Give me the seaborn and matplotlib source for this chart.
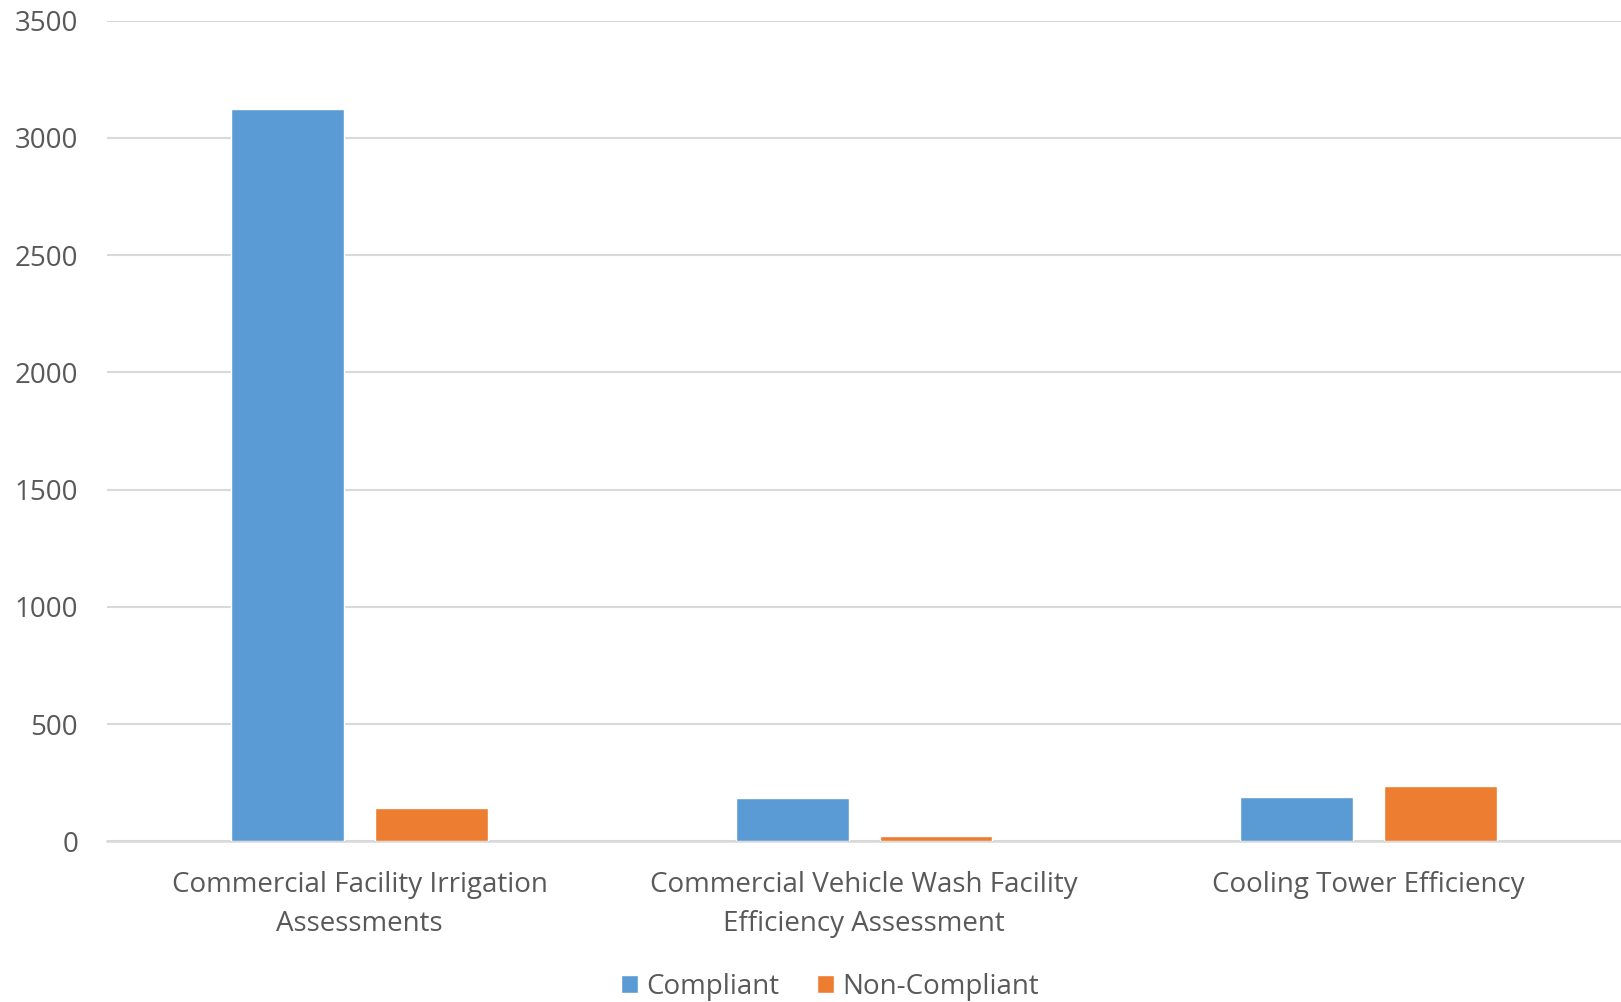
import matplotlib
matplotlib.use("Agg")
import matplotlib.pyplot as plt
import pandas as pd
import seaborn as sns

# data
categories = ["Commercial Facility Irrigation\nAssessments",
              "Commercial Vehicle Wash Facility\nEfficiency Assessment",
              "Cooling Tower Efficiency"]
compliant = [3124, 184, 190]
non_compliant = [141, 25, 238]
series_names = ["Compliant", "Non-Compliant"]
y_ticks = [0, 500, 1000, 1500, 2000, 2500, 3000, 3500]

df = pd.DataFrame({
    "category": categories * 2,
    "series": [series_names[0]] * 3 + [series_names[1]] * 3,
    "value": compliant + non_compliant,
})

sns.set_theme(style="white")
plt.rcParams["font.family"] = ["Open Sans", "DejaVu Sans"]
text_col = "#595959"
grid_col = "#D9D9D9"

fig = plt.figure(figsize=(16.21, 10.02), dpi=100)
ax = fig.add_axes([0.0663, 0.1602, 0.9337, 0.8191])

sns.barplot(data=df, x="category", y="value", hue="series",
            palette=["#5B9BD5", "#ED7D31"], width=0.57, gap=0.216,
            saturation=1, ax=ax, zorder=3)

ax.set_ylim(0, 3500)
ax.set_xlim(-0.5, 2.5)
ax.set_yticks(y_ticks)
ax.set_yticklabels([str(t) for t in y_ticks])
ax.yaxis.grid(True, color=grid_col, linewidth=1.5, zorder=0)
ax.set_axisbelow(True)
for side in ["top", "right", "left"]:
    ax.spines[side].set_visible(False)
ax.spines["bottom"].set_color(grid_col)
ax.spines["bottom"].set_linewidth(1.8)
ax.set_xlabel("")
ax.set_ylabel("")
ax.tick_params(axis="y", length=0, pad=21, labelsize=20, labelcolor=text_col)
ax.tick_params(axis="x", length=0, pad=21, labelsize=20, labelcolor=text_col)
for lbl in ax.get_xticklabels():
    lbl.set_linespacing(1.53)

ax.legend_.remove()
handles, labels = ax.get_legend_handles_labels()
fig.legend(handles, labels, loc="center", bbox_to_anchor=(0.512, 0.015), ncol=2,
           frameon=False, fontsize=20, labelcolor=text_col,
           handlelength=0.62, handleheight=0.62, handletextpad=0.3,
           columnspacing=1.35)

fig.savefig("out.png", dpi=100)
